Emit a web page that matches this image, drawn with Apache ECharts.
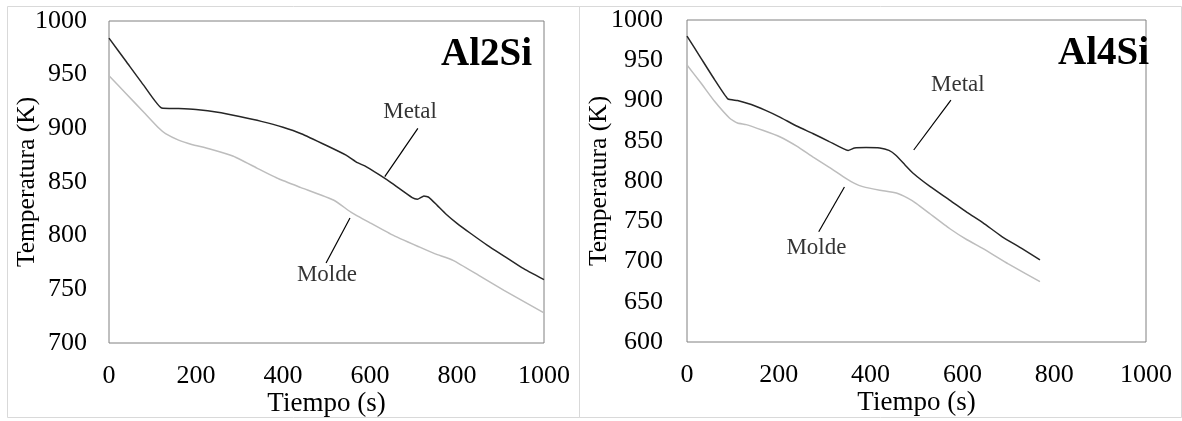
<!DOCTYPE html>
<html><head><meta charset="utf-8">
<script src="https://cdn.jsdelivr.net/npm/echarts@6/dist/echarts.min.js"></script>
<style>html,body{margin:0;padding:0;background:#fff}#c{width:1182px;height:421px}</style>
</head><body><div id="c"></div>
<script>
// ---- Data (time s, temperature K) ----
const xTicks = [0, 200, 400, 600, 800, 1000];
const al2MetalT = [0, 40, 80, 121, 160, 200, 250, 300, 350, 400, 442, 500, 545, 571, 588, 620, 650, 697, 709, 724, 736, 755, 775, 800, 830, 870, 910, 950, 1000];
const al2MetalK = [984, 962, 940, 919, 918.5, 917.5, 915, 911, 906.5, 901, 895, 884, 875, 868, 865, 857, 849, 835.5, 834, 837, 835.5, 828, 820, 811.5, 802.5, 791, 780.5, 770, 759];
const al2MoldeT = [0, 40, 80, 115, 130, 160, 190, 230, 286, 340, 390, 440, 517, 556, 600, 650, 713, 750, 791, 850, 908, 1000];
const al2MoldeK = [949, 932, 915, 900, 895, 889, 885, 881, 874, 863, 853, 845, 833, 822, 812, 801, 789.5, 783, 777, 763, 749, 728];
const al4MetalT = [0, 30, 60, 89, 110, 140, 170, 200, 240, 274, 310, 351, 365, 390, 420, 440, 455, 475, 492, 530, 573, 610, 645, 686, 730, 769];
const al4MetalK = [980, 953, 926, 902, 900, 895, 888, 880, 868, 859, 849, 838, 841, 841.5, 841, 838, 832, 820, 810, 793, 776, 761, 748, 731, 716, 702];
const al4MoldeT = [0, 30, 60, 93, 110, 129, 165, 202, 240, 274, 310, 347, 365, 383, 420, 456, 480, 500, 530, 572, 610, 645, 700, 769];
const al4MoldeK = [944, 922, 899, 878, 872, 870, 863, 855, 843, 830, 817, 803, 797, 793, 788.5, 785, 779, 772, 759, 741, 727, 716, 697, 675];
// annotation leader lines and labels (data coordinates)
const al2MetalLead = [[710, 900], [634, 855]];
const al2MoldeLead = [[554, 816.5], [499, 774.5]];
const al4MetalLead = [[575, 900.5], [494, 838.5]];
const al4MoldeLead = [[343, 792.5], [287, 737]];
const al2Labels = [[692, 915, 'Metal'], [501, 763, 'Molde']];
const al4Labels = [[590, 919, 'Metal'], [282, 717, 'Molde']];
const panelTitles = ['Al2Si', 'Al4Si'];

const zip = (a, b) => a.map((v, i) => [v, b[i]]);
const FONT = '"Liberation Serif", "Times New Roman", serif';

function xAx(gi) {
  return {
    gridIndex: gi, type: 'value', min: 0, max: 1000, interval: 200,
    axisLine: {show: false}, axisTick: {show: false}, splitLine: {show: false},
    axisLabel: {color: '#000', fontFamily: FONT, fontSize: 26, margin: 20, formatter: v => String(v)},
    name: 'Tiempo (s)', nameLocation: 'middle', nameGap: 47, nameMoveOverlap: false,
    nameTextStyle: {color: '#000', fontFamily: FONT, fontSize: 27}
  };
}
function yAx(gi, min, gap, lm) {
  return {
    gridIndex: gi, type: 'value', min: min, max: 1000, interval: 50,
    axisLine: {show: false}, axisTick: {show: false}, splitLine: {show: false},
    axisLabel: {color: '#000', fontFamily: FONT, fontSize: 26, margin: lm, formatter: v => String(v)},
    name: 'Temperatura (K)', nameLocation: 'middle', nameGap: gap, nameMoveOverlap: false,
    nameTextStyle: {color: '#000', fontFamily: FONT, fontSize: 25.5}
  };
}
function line(gi, data, color, w) {
  return {type: 'line', xAxisIndex: gi, yAxisIndex: gi, data: data, showSymbol: false, symbol: 'none',
    smooth: 0.15, lineStyle: {color: color, width: w}, silent: true, z: 3};
}
function labels(gi, data) {
  return {type: 'scatter', xAxisIndex: gi, yAxisIndex: gi, data: data, symbolSize: 0, silent: true,
    itemStyle: {color: '#000'},
    label: {show: true, position: 'inside', formatter: p => p.value[2], color: '#000',
      textBorderWidth: 0, textShadowBlur: 0, fontFamily: FONT, fontSize: 23}};
}

const chart = echarts.init(document.getElementById('c'), null, {renderer: 'canvas'});
chart.setOption({
  animation: false,
  backgroundColor: '#fff',
  grid: [
    {left: 109, top: 21, width: 435, height: 322, show: true, borderColor: '#808080', borderWidth: 1, backgroundColor: 'transparent', containLabel: false, outerBoundsMode: 'none'},
    {left: 687, top: 20, width: 459, height: 322, show: true, borderColor: '#808080', borderWidth: 1, backgroundColor: 'transparent', containLabel: false, outerBoundsMode: 'none'}
  ],
  xAxis: [xAx(0), xAx(1)],
  yAxis: [yAx(0, 700, 69, 22), yAx(1, 600, 75, 24)],
  graphic: [
    {type: 'rect', shape: {x: 7.5, y: 6.5, width: 572, height: 411}, style: {fill: 'none', stroke: '#d9d9d9', lineWidth: 1}, silent: true},
    {type: 'rect', shape: {x: 579.5, y: 6.5, width: 602, height: 411}, style: {fill: 'none', stroke: '#d9d9d9', lineWidth: 1}, silent: true},
    {type: 'text', x: 532, y: 55, z: 10, style: {text: panelTitles[0], align: 'right', verticalAlign: 'middle', fill: '#000', font: 'bold 39px ' + FONT}},
    {type: 'text', x: 1149, y: 54, z: 10, style: {text: panelTitles[1], align: 'right', verticalAlign: 'middle', fill: '#000', font: 'bold 39px ' + FONT}}
  ],
  series: [
    line(0, zip(al2MoldeT, al2MoldeK), '#bdbdbd', 1.5),
    line(0, zip(al2MetalT, al2MetalK), '#262626', 1.5),
    line(1, zip(al4MoldeT, al4MoldeK), '#bdbdbd', 1.5),
    line(1, zip(al4MetalT, al4MetalK), '#262626', 1.5),
    {type: 'line', xAxisIndex: 0, yAxisIndex: 0, data: al2MetalLead, symbol: 'none', lineStyle: {color: '#000', width: 1.2}, silent: true},
    {type: 'line', xAxisIndex: 0, yAxisIndex: 0, data: al2MoldeLead, symbol: 'none', lineStyle: {color: '#000', width: 1.2}, silent: true},
    {type: 'line', xAxisIndex: 1, yAxisIndex: 1, data: al4MetalLead, symbol: 'none', lineStyle: {color: '#000', width: 1.2}, silent: true},
    {type: 'line', xAxisIndex: 1, yAxisIndex: 1, data: al4MoldeLead, symbol: 'none', lineStyle: {color: '#000', width: 1.2}, silent: true},
    labels(0, al2Labels),
    labels(1, al4Labels)
  ]
});
</script></body></html>
